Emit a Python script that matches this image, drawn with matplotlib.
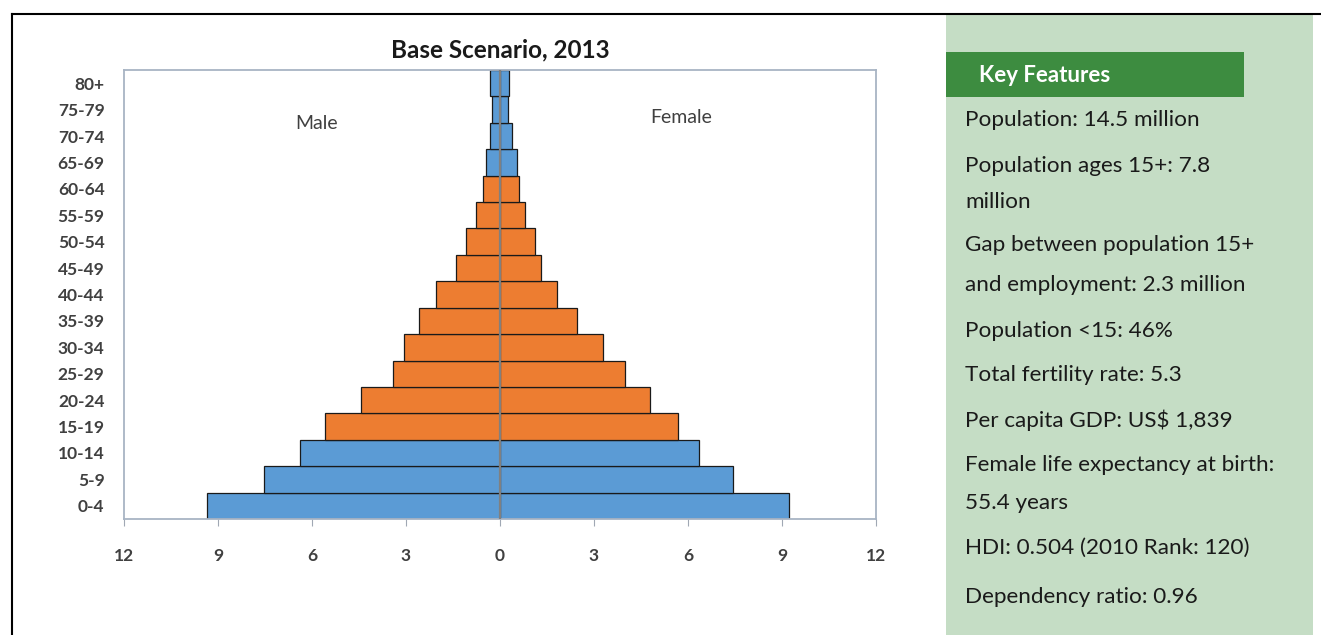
import matplotlib.pyplot as plt
from matplotlib.patches import Rectangle

# Age groups, bottom to top
age_groups = ['0-4', '5-9', '10-14', '15-19', '20-24', '25-29', '30-34', '35-39',
              '40-44', '45-49', '50-54', '55-59', '60-64', '65-69', '70-74', '75-79', '80+']

# Percent of population
male = [9.35, 7.53, 6.38, 5.59, 4.44, 3.42, 3.06, 2.59, 2.04, 1.41, 1.09, 0.77, 0.55, 0.45, 0.32, 0.25, 0.32]
female = [9.22, 7.45, 6.36, 5.69, 4.79, 3.99, 3.30, 2.45, 1.81, 1.31, 1.12, 0.80, 0.61, 0.53, 0.37, 0.25, 0.29]

# working ages 15-64 drawn in orange
working_age = [False] * 3 + [True] * 10 + [False] * 4

x_ticks = [-12, -9, -6, -3, 0, 3, 6, 9, 12]

key_features = [
    ('Population: 14.5 million', 120),
    ('Population ages 15+: 7.8', 166),
    ('million', 202),
    ('Gap between population 15+', 245),
    ('and employment: 2.3 million', 285),
    ('Population <15: 46%', 331),
    ('Total fertility rate: 5.3', 375),
    ('Per capita GDP: US$ 1,839', 420),
    ('Female life expectancy at birth:', 465),
    ('55.4 years', 503),
    ('HDI: 0.504 (2010 Rank: 120)', 548),
    ('Dependency ratio: 0.96', 597),
]

BLUE = '#5B9BD5'
ORANGE = '#ED7D31'
W, H = 1321, 635

plt.rcParams['font.family'] = ['Lato', 'DejaVu Sans']

fig = plt.figure(figsize=(W / 100, H / 100), dpi=100)


def fx(px):
    return px / W


def fy(py):
    return 1 - py / H


# outer frame lines
fig.add_artist(plt.Line2D([fx(12), 1], [fy(14), fy(14)], color='black', lw=1.5))
fig.add_artist(plt.Line2D([fx(12), fx(12)], [fy(14), 0], color='black', lw=1.5))

# pyramid
ax = fig.add_axes([fx(124), fy(519), (876 - 124) / W, (519 - 70) / H])
ypos = list(range(len(age_groups)))
colors = [ORANGE if w else BLUE for w in working_age]
ax.barh(ypos, [-m for m in male], height=1, color=colors, edgecolor='#1a1a1a', lw=0.9)
ax.barh(ypos, female, height=1, color=colors, edgecolor='#1a1a1a', lw=0.9)
ax.axvline(0, color='#808080', lw=1.6, zorder=5)

ax.set_xlim(-12, 12)
ax.set_ylim(-0.5, len(age_groups) - 0.5)
ax.set_xticks(x_ticks)
ax.set_xticklabels([str(abs(t)) for t in x_ticks], fontsize=12.5, fontweight='bold', color='#404040')
ax.set_yticks(ypos)
ax.set_yticklabels(age_groups, fontsize=12.5, fontweight='bold', color='#404040')
ax.tick_params(axis='y', length=0, pad=14)
ax.tick_params(axis='x', length=5, color='#a0a8b4', pad=16)
for s in ax.spines.values():
    s.set_color('#a8b4c4')
    s.set_linewidth(1.3)

ax.text(-5.87, 14.49, 'Male', ha='center', va='center', fontsize=14, color='#404040')
ax.text(5.78, 14.72, 'Female', ha='center', va='center', fontsize=14, color='#404040')
ax.set_title('Base Scenario, 2013', fontsize=17.5, fontweight='bold', color='#1a1a1a', pad=9)

# key features panel
fig.add_artist(Rectangle((fx(946), 0), (1313 - 946) / W, fy(15), transform=fig.transFigure,
                         facecolor='#C5DDC5', edgecolor='none'))
fig.add_artist(Rectangle((fx(946), fy(97)), (1244 - 946) / W, (97 - 52) / H, transform=fig.transFigure,
                         facecolor='#3D8C40', edgecolor='none'))
fig.text(fx(979), fy(75), 'Key Features', fontsize=16, fontweight='bold', color='white', va='center')
for line, py in key_features:
    fig.text(fx(965), fy(py), line, fontsize=16.2, color='#1a1a1a', va='center')

fig.savefig('out.png', dpi=100)
